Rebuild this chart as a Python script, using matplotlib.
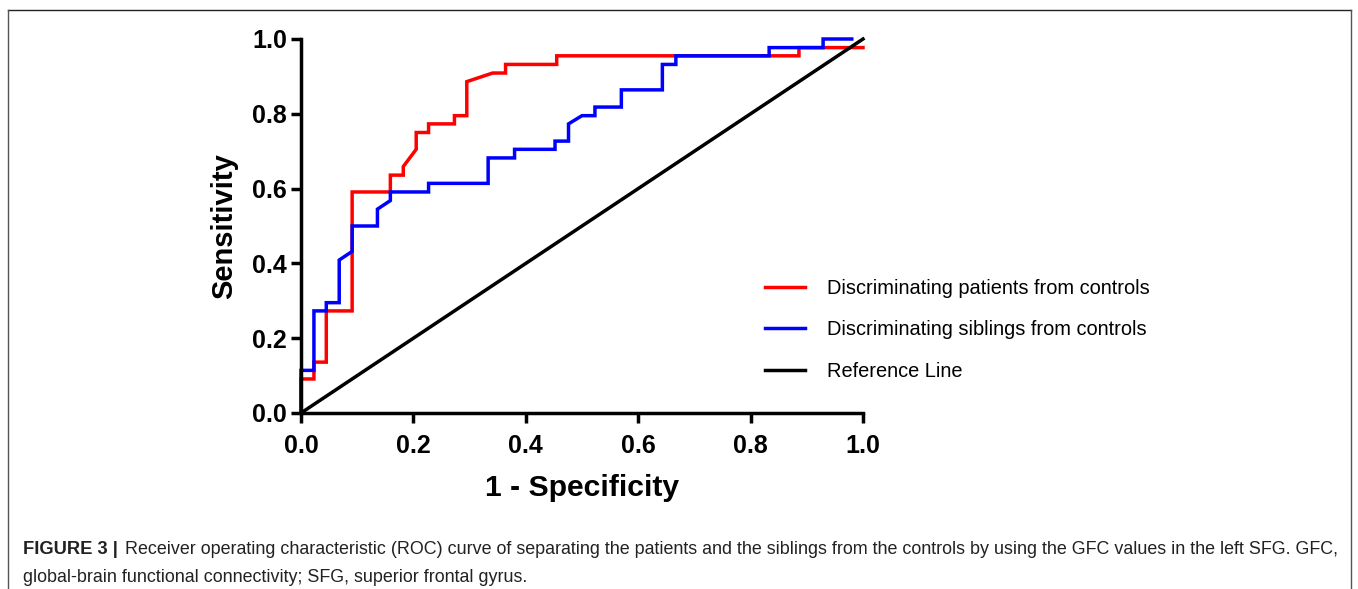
import matplotlib
matplotlib.use("Agg")
import matplotlib.pyplot as plt
from matplotlib.lines import Line2D

# ROC step curves (1 - specificity, sensitivity)
patients_fpr = [0.0, 0.0, 0.023, 0.023, 0.045, 0.045, 0.091, 0.091, 0.159, 0.159,
                0.182, 0.182, 0.205, 0.205, 0.227, 0.227, 0.273, 0.273, 0.295, 0.295,
                0.341, 0.364, 0.364, 0.455, 0.455, 0.886, 0.886, 1.0]
patients_tpr = [0.0, 0.091, 0.091, 0.136, 0.136, 0.273, 0.273, 0.591, 0.591, 0.636,
                0.636, 0.659, 0.705, 0.750, 0.750, 0.773, 0.773, 0.795, 0.795, 0.886,
                0.909, 0.909, 0.932, 0.932, 0.955, 0.955, 0.977, 0.977]

siblings_fpr = [0.0, 0.0, 0.023, 0.023, 0.045, 0.045, 0.068, 0.068, 0.091, 0.091,
                0.136, 0.136, 0.159, 0.159, 0.227, 0.227, 0.333, 0.333, 0.380, 0.380,
                0.452, 0.452, 0.476, 0.476, 0.500, 0.523, 0.523, 0.570, 0.570, 0.643,
                0.643, 0.667, 0.667, 0.833, 0.833, 0.929, 0.929, 0.980]
siblings_tpr = [0.0, 0.114, 0.114, 0.273, 0.273, 0.295, 0.295, 0.409, 0.432, 0.500,
                0.500, 0.545, 0.568, 0.591, 0.591, 0.614, 0.614, 0.682, 0.682, 0.705,
                0.705, 0.727, 0.727, 0.773, 0.795, 0.795, 0.818, 0.818, 0.864, 0.864,
                0.932, 0.932, 0.955, 0.955, 0.977, 0.977, 1.0, 1.0]

ref_x = [0.0, 1.0]
ref_y = [0.0, 1.0]

labels = ["Discriminating patients from controls",
          "Discriminating siblings from controls",
          "Reference Line"]
colours = ["#ff0000", "#0000ff", "#000000"]

W, H = 1358, 589
fig = plt.figure(figsize=(W / 100, H / 100), dpi=100)
ax = fig.add_axes([301 / W, 1 - 413 / H, (863 - 301) / W, (413 - 39) / H])

lw = 2.5
ax.plot(patients_fpr, patients_tpr, color=colours[0], lw=lw, clip_on=False,
        solid_joinstyle="miter")
ax.plot(siblings_fpr, siblings_tpr, color=colours[1], lw=lw, clip_on=False,
        solid_joinstyle="miter")
ax.plot(ref_x, ref_y, color=colours[2], lw=lw, clip_on=False)

ax.set_xlim(0, 1)
ax.set_ylim(0, 1)
ticks = [0.0, 0.2, 0.4, 0.6, 0.8, 1.0]
ax.set_xticks(ticks)
ax.set_yticks(ticks)
ax.set_xticklabels([f"{t:.1f}" for t in ticks])
ax.set_yticklabels([f"{t:.1f}" for t in ticks])
for s in ["top", "right"]:
    ax.spines[s].set_visible(False)
for s in ["left", "bottom"]:
    ax.spines[s].set_linewidth(2.5)
ax.tick_params(width=2.5, length=7, direction="out")
ax.tick_params(axis="x", pad=8)
ax.tick_params(axis="y", pad=3)
for lab in ax.get_xticklabels() + ax.get_yticklabels():
    lab.set_fontfamily("Liberation Sans")
    lab.set_fontweight("bold")
    lab.set_fontsize(18)

ax.set_xlabel("1 - Specificity", fontfamily="Liberation Sans", fontweight="bold",
              fontsize=21.7, labelpad=12)
ax.set_ylabel("Sensitivity", fontfamily="Liberation Sans", fontweight="bold",
              fontsize=21, labelpad=10)

handles = [Line2D([], [], color=c, lw=lw) for c in colours]
leg = ax.legend(handles, labels, loc="upper left",
                bbox_to_anchor=(765 / W, 1 - 279 / H), bbox_transform=fig.transFigure,
                frameon=False, borderpad=0, borderaxespad=0,
                handlelength=2.0, handletextpad=1.1, labelspacing=1.12,
                prop={"family": "Liberation Sans", "size": 14.4})

# outer frame of the published figure
fig.add_artist(Line2D([8 / W, 1351 / W], [1 - 10 / H, 1 - 10 / H], color="#222222",
                      lw=1.0, transform=fig.transFigure))
fig.add_artist(Line2D([8 / W, 8 / W], [1 - 10 / H, 0], color="#555555",
                      lw=1.0, transform=fig.transFigure))
fig.add_artist(Line2D([1351 / W, 1351 / W], [1 - 10 / H, 0], color="#555555",
                      lw=1.0, transform=fig.transFigure))

cap_font = ["Liberation Sans Narrow", "Liberation Sans"]
fig.text(23 / W, 1 - 550 / H, "FIGURE 3 |", family=cap_font, fontweight="bold",
         fontsize=13.2, va="center", ha="left", color="#222222")
fig.text(125 / W, 1 - 550 / H,
         "Receiver operating characteristic (ROC) curve of separating the patients and the "
         "siblings from the controls by using the GFC values in the left SFG. GFC,",
         family=cap_font, fontsize=12.85, va="center", ha="left", color="#222222")
fig.text(23 / W, 1 - 577 / H,
         "global-brain functional connectivity; SFG, superior frontal gyrus.",
         family=cap_font, fontsize=12.85, va="center", ha="left", color="#222222")

fig.savefig("out.png", dpi=100)
